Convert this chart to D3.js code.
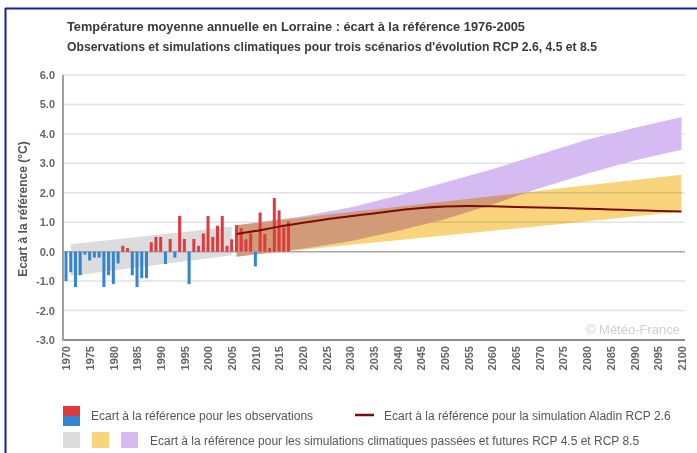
<!DOCTYPE html>
<html><head><meta charset="utf-8">
<script src="https://cdn.jsdelivr.net/npm/d3@7/dist/d3.min.js"></script>
<style>
html,body{margin:0;padding:0;background:#fff;}
svg{display:block;}
</style></head><body>
<svg id="c" width="697" height="453"></svg>
<script>
// ---------- DATA ----------
const obsYears = d3.range(1970, 2018);
const obsValues = [-1.0,-0.7,-1.2,-0.8,-0.1,-0.3,-0.2,-0.2,-1.2,-0.8,
  -1.1,-0.4,0.2,0.12,-0.8,-1.2,-0.9,-0.9,0.32,0.5,
  0.5,-0.42,0.43,-0.2,1.21,0.43,-1.1,0.43,0.2,0.62,
  1.21,0.5,0.88,1.21,0.2,0.42,0.9,0.8,0.42,0.62,
  -0.5,1.33,0.6,0.13,1.82,1.4,0.82,1.02];

const histYears = [1971, 2005];
const histLow = [-0.83, -0.12];
const histHigh = [0.25, 0.85];

const rcp45Years = [2006, 2025, 2050, 2075, 2100];
const rcp45Low = [-0.17, 0.15, 0.55, 0.95, 1.36];
const rcp45High = [0.9, 1.25, 1.7, 2.16, 2.61];

const rcp85Years = [2006, 2020, 2030, 2040, 2050, 2060, 2070, 2080, 2090, 2100];
const rcp85Low = [-0.17, 0.1, 0.35, 0.7, 1.1, 1.6, 2.15, 2.65, 3.1, 3.46];
const rcp85High = [0.9, 1.2, 1.5, 1.9, 2.35, 2.8, 3.3, 3.8, 4.2, 4.57];

const aladinYears = [2006,2010,2015,2020,2025,2030,2035,2040,2045,2050,2055,2060,2065,2070,2075,2080,2085,2090,2095,2100];
const aladinValues = [0.6,0.7,0.85,0.98,1.1,1.2,1.3,1.4,1.48,1.53,1.55,1.54,1.52,1.5,1.48,1.46,1.43,1.41,1.38,1.36];

const yTicks = [-3,-2,-1,0,1,2,3,4,5,6];
const xTicks = d3.range(1970, 2101, 5);

const title1 = "Température moyenne annuelle en Lorraine : écart à la référence 1976-2005";
const title2 = "Observations et simulations climatiques pour trois scénarios d'évolution RCP 2.6, 4.5 et 8.5";
const yTitle = "Ecart à la référence (°C)";
const legend1 = "Ecart à la référence pour les observations";
const legend2 = "Ecart à la référence pour la simulation Aladin RCP 2.6";
const legend3 = "Ecart à la référence pour les simulations climatiques passées et futures RCP 4.5 et RCP 8.5";
const credit = "Météo-France";

// ---------- LAYOUT ----------
const svg = d3.select("#c");
const font = "'Liberation Sans', Arial, sans-serif";
const x = d3.scaleLinear().domain([1970, 2100]).range([66, 681.5]);
const y = d3.scaleLinear().domain([-3, 6]).range([340, 75]);
const plotL = 63, plotR = 685;

// frame
svg.append("line").attr("x1",5).attr("x2",697).attr("y1",8.5).attr("y2",8.5).attr("stroke","#1c1c9c").attr("stroke-width",2);
svg.append("line").attr("x1",5.5).attr("x2",5.5).attr("y1",8).attr("y2",453).attr("stroke","#1c1c9c").attr("stroke-width",2);

// titles
svg.append("text").attr("x",67).attr("y",31).attr("font-family",font).attr("font-weight","bold").attr("font-size",12.5)
  .attr("fill","#3a3a3a").attr("textLength",458).attr("lengthAdjust","spacingAndGlyphs").text(title1);
svg.append("text").attr("x",67).attr("y",51).attr("font-family",font).attr("font-weight","bold").attr("font-size",12.5)
  .attr("fill","#3a3a3a").attr("textLength",530).attr("lengthAdjust","spacingAndGlyphs").text(title2);

// grid
svg.append("g").selectAll("line").data(yTicks.filter(d => d !== -3 && d !== 0)).join("line")
  .attr("x1",plotL).attr("x2",plotR).attr("y1",d=>y(d)).attr("y2",d=>y(d))
  .attr("stroke","#e2e2e2").attr("stroke-width",1.5);

// y axis labels (plain hyphen minus, as in the reference)
const fmt1 = d3.format(".1f");
const yAxis = d3.axisLeft(y).tickValues(yTicks).tickFormat(d => fmt1(d).replace("\u2212","-")).tickSize(0).tickPadding(8);
const gy = svg.append("g").attr("transform",`translate(${plotL},0)`).call(yAxis);
gy.select(".domain").remove();
gy.selectAll("text").attr("font-family",font).attr("font-weight","bold").attr("font-size",11).attr("fill","#666");

// y title
svg.append("text").attr("transform","translate(27,209) rotate(-90)").attr("text-anchor","middle")
  .attr("font-family",font).attr("font-weight","bold").attr("font-size",12).attr("fill","#555").text(yTitle);

// bands
const area = (ys, lo, hi) => d3.area().x((d,i)=>x(ys[i])).y0((d,i)=>y(lo[i])).y1((d,i)=>y(hi[i]))(ys);
svg.append("path").attr("d", area(histYears, histLow, histHigh)).attr("fill","#dcdcdc");
svg.append("path").attr("d", area(rcp85Years, rcp85Low, rcp85High)).attr("fill","#d6bbf3");
svg.append("path").attr("d", area(rcp45Years, rcp45Low, rcp45High)).attr("fill","#f8d47c").style("mix-blend-mode","multiply");

// zero line
svg.append("line").attr("x1",plotL).attr("x2",plotR).attr("y1",y(0)).attr("y2",y(0)).attr("stroke","#a8a8a8").attr("stroke-width",1.5);

// bars
const bw = 3;
svg.append("g").selectAll("rect").data(obsYears).join("rect")
  .attr("x", (d)=>x(d)-bw/2).attr("width", bw)
  .attr("y", (d,i)=> obsValues[i] >= 0 ? y(obsValues[i]) : y(0))
  .attr("height", (d,i)=> Math.abs(y(obsValues[i]) - y(0)))
  .attr("fill", (d,i)=> obsValues[i] >= 0 ? "#e03a3e" : "#3385d2");

// aladin line
svg.append("path").attr("d", d3.line().x((d,i)=>x(aladinYears[i])).y((d,i)=>y(aladinValues[i])).curve(d3.curveMonotoneX)(aladinYears))
  .attr("fill","none").attr("stroke","#7a0a0a").attr("stroke-width",2);

// axes lines
svg.append("line").attr("x1",plotL).attr("x2",plotR).attr("y1",y(-3)).attr("y2",y(-3)).attr("stroke","#8c8c8c").attr("stroke-width",2);
svg.append("line").attr("x1",plotL).attr("x2",plotL).attr("y1",y(6)).attr("y2",y(-3)+1).attr("stroke","#a0a0a0").attr("stroke-width",2);

// x axis labels
const xAxis = d3.axisBottom(x).tickValues(xTicks).tickFormat(d3.format("d")).tickSize(0).tickPadding(0);
const gx = svg.append("g").attr("transform",`translate(0,${y(-3)})`).call(xAxis);
gx.select(".domain").remove();
gx.selectAll("text").attr("font-family",font).attr("font-weight","bold").attr("font-size",11).attr("fill","#666")
  .attr("transform","rotate(-90)").attr("text-anchor","end").attr("dy","0.35em").attr("x",-6).attr("y",0);

// credit
svg.append("text").attr("x",680).attr("y",334).attr("text-anchor","end").attr("font-family",font).attr("font-size",13)
  .attr("fill","#cfcfcf").text("\u00A9 " + credit);

// legend
const lg = svg.append("g").attr("font-family",font).attr("font-size",12).attr("fill","#555");
lg.append("rect").attr("x",63).attr("y",406).attr("width",17).attr("height",10).attr("fill","#e03a3e");
lg.append("rect").attr("x",63).attr("y",416).attr("width",17).attr("height",10).attr("fill","#3385d2");
lg.append("text").attr("x",91).attr("y",420).text(legend1);
lg.append("line").attr("x1",355).attr("x2",374).attr("y1",415).attr("y2",415).attr("stroke","#7a0a0a").attr("stroke-width",2.5);
lg.append("text").attr("x",384).attr("y",420).text(legend2);
lg.append("rect").attr("x",63).attr("y",432).attr("width",17).attr("height",16).attr("fill","#dcdcdc");
lg.append("rect").attr("x",92).attr("y",432).attr("width",17).attr("height",16).attr("fill","#f8d47c");
lg.append("rect").attr("x",121).attr("y",432).attr("width",17).attr("height",16).attr("fill","#d6bbf3");
lg.append("text").attr("x",150).attr("y",445).text(legend3);
</script>
</body></html>
